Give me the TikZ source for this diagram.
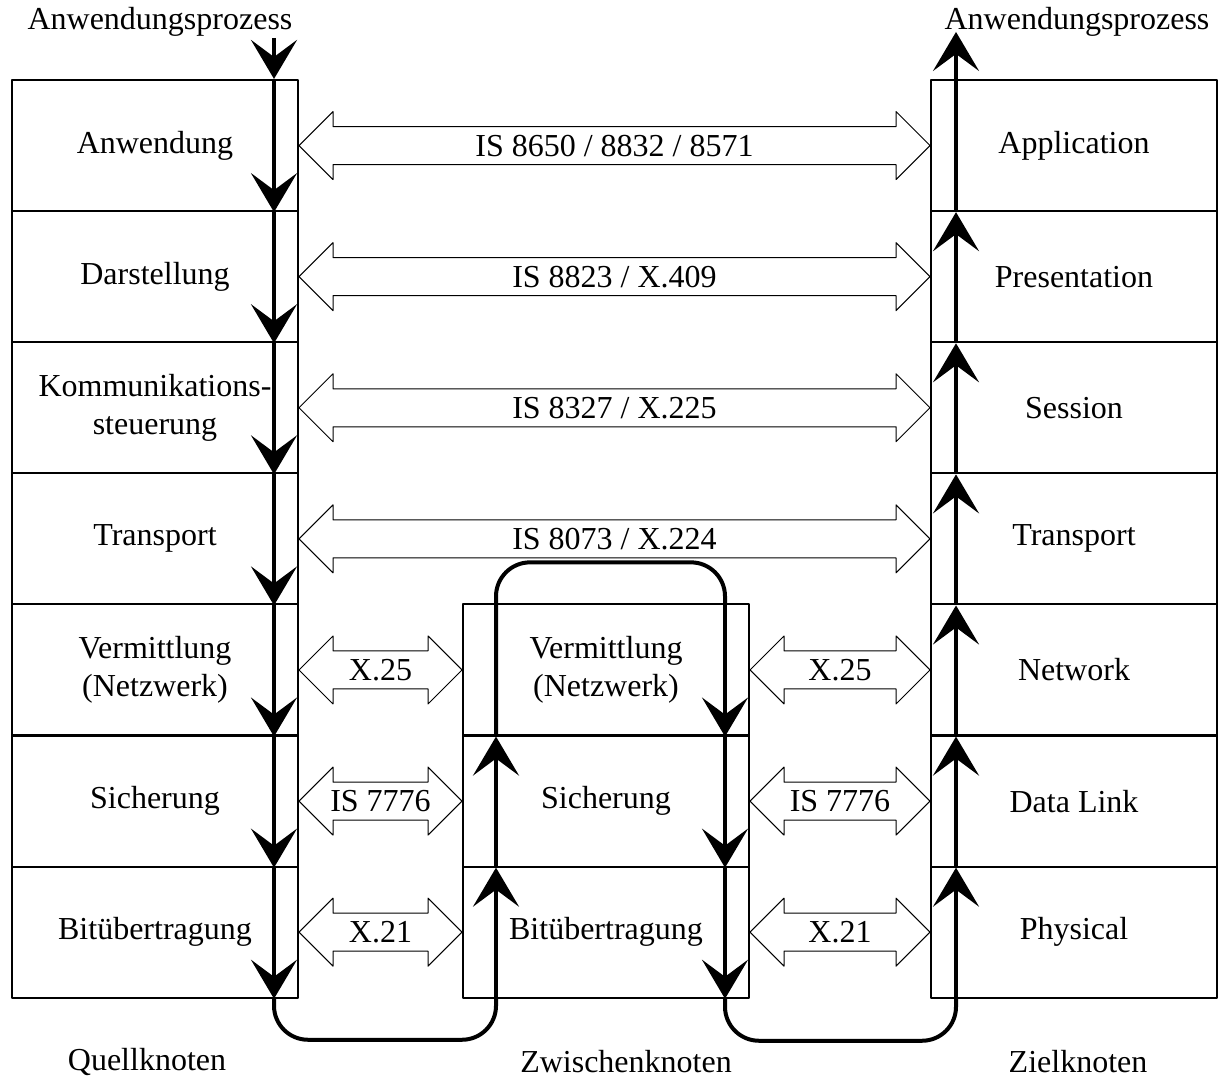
\documentclass[tikz,border=0pt]{standalone}
\usepackage{fontspec}
\setmainfont{Liberation Serif}
\usetikzlibrary{arrows.meta,calc}

% hohler Doppelpfeil zwischen zwei Schichten
\newcommand{\hohlpfeil}[4]{%
  \draw[hohl] let \p1=(#1), \p2=(#2) in
    (\x1,\y1) -- (\x1+17pt,\y1+17pt) -- (\x1+17pt,\y1+9.5pt) -- (\x2-17pt,\y1+9.5pt)
    -- (\x2-17pt,\y1+17pt) -- (\x2,\y1) -- (\x2-17pt,\y1-17pt) -- (\x2-17pt,\y1-9.5pt)
    -- (\x1+17pt,\y1-9.5pt) -- (\x1+17pt,\y1-17pt) -- cycle;
  \node (#3) at ($(#1)!.5!(#2)$) {#4};}

\begin{document}
\begin{tikzpicture}[x=0.5pt, y=-0.5pt, line join=round,
		font=\fontsize{16}{19}\selectfont,
		schicht/.style={draw, line width=1pt, minimum width=143pt, minimum height=65.6pt, inner sep=0pt, align=center},
		fluss/.style={line width=2pt},
		spitze/.style={-{Stealth[length=19.5pt,width=23pt,inset=8.5pt]}},
		hohl/.style={line width=0.5pt}]
		\useasboundingbox (0,0) rectangle (1224,1082);
		\foreach \i/\a/\b in {1/Anwendung/Application, 2/Darstellung/Presentation,
			3/{Kommunikations-\\steuerung}/Session, 4/Transport/Transport,
			5/{Vermittlung\\(Netzwerk)}/Network, 6/Sicherung/{Data Link}, 7/Bitübertragung/Physical}{
			\node[schicht] (L\i) at (155,{14.45+131.1*\i}) {\a};
			\node[schicht] (R\i) at (1074,{14.45+131.1*\i}) {\b};
		}
		\foreach \i/\a in {5/{Vermittlung\\(Netzwerk)}, 6/Sicherung, 7/Bitübertragung}{
			\node[schicht] (M\i) at (606,{14.45+131.1*\i}) {\a};
		}
		\node (prozL) at (160,22) {Anwendungsprozess};
		\node (prozR) at (1077,22) {Anwendungsprozess};
		\node (quelle) at (147,1062) {Quellknoten};
		\node (zwischen) at (626,1062) {Zwischenknoten};
		\node (ziel) at (1078,1062) {Zielknoten};
		% Protokolle
		\hohlpfeil{L1.east}{R1.west}{p1}{IS 8650 / 8832 / 8571}
		\hohlpfeil{L2.east}{R2.west}{p2}{IS 8823 / X.409}
		\hohlpfeil{L3.east}{R3.west}{p3}{IS 8327 / X.225}
		\hohlpfeil{L4.east}{R4.west}{p4}{IS 8073 / X.224}
		\foreach \i/\t in {5/X.25, 6/IS 7776, 7/X.21}{
			\hohlpfeil{L\i.east}{M\i.west}{pl\i}{\t}
			\hohlpfeil{M\i.east}{R\i.west}{pr\i}{\t}
		}
		% Datenweg
		\path (L1.north east) ++(-25,0) coordinate (l0)
		(L1.north east) ++(-25,-41) coordinate (ein)
		(R1.north west) ++(26,-47) coordinate (aus)
		(M5.north west) ++(34,0) coordinate (u4)
		(M5.north east) ++(-25,0) coordinate (d4);
		\foreach \i in {1,...,7}{
			\path (L\i.south east) ++(-25,0) coordinate (l\i);
			\path (R\i.south west) ++(26,0) coordinate (r\i);
		}
		\foreach \i in {5,6,7}{
			\path (M\i.south west) ++(34,0) coordinate (u\i);
			\path (M\i.south east) ++(-25,0) coordinate (d\i);
		}
		\path (u4) ++(0,-41) coordinate (oben)
		(l7) ++(0,41) coordinate (unten1)
		(d7) ++(0,42) coordinate (unten2);
		\draw[fluss,spitze] (ein) -- (l0);
		\foreach \i [count=\j from 0] in {1,...,7}
			\draw[fluss,spitze] (l\j) -- (l\i);
		\draw[fluss,rounded corners=17pt] (l7) -- (unten1) -| (u7);
		\draw[fluss,spitze] (u7) -- (u6);
		\draw[fluss,spitze] (u6) -- (u5);
		\draw[fluss,rounded corners=17pt] (u5) -- (oben) -| (d4);
		\foreach \a/\b in {4/5,5/6,6/7}
			\draw[fluss,spitze] (d\a) -- (d\b);
		\draw[fluss,rounded corners=17pt] (d7) -- (unten2) -| (r7);
		\foreach \a/\b in {7/6,6/5,5/4,4/3,3/2,2/1}
			\draw[fluss,spitze] (r\a) -- (r\b);
		\draw[fluss,spitze] (r1) -- (aus);
\end{tikzpicture}
\end{document}
